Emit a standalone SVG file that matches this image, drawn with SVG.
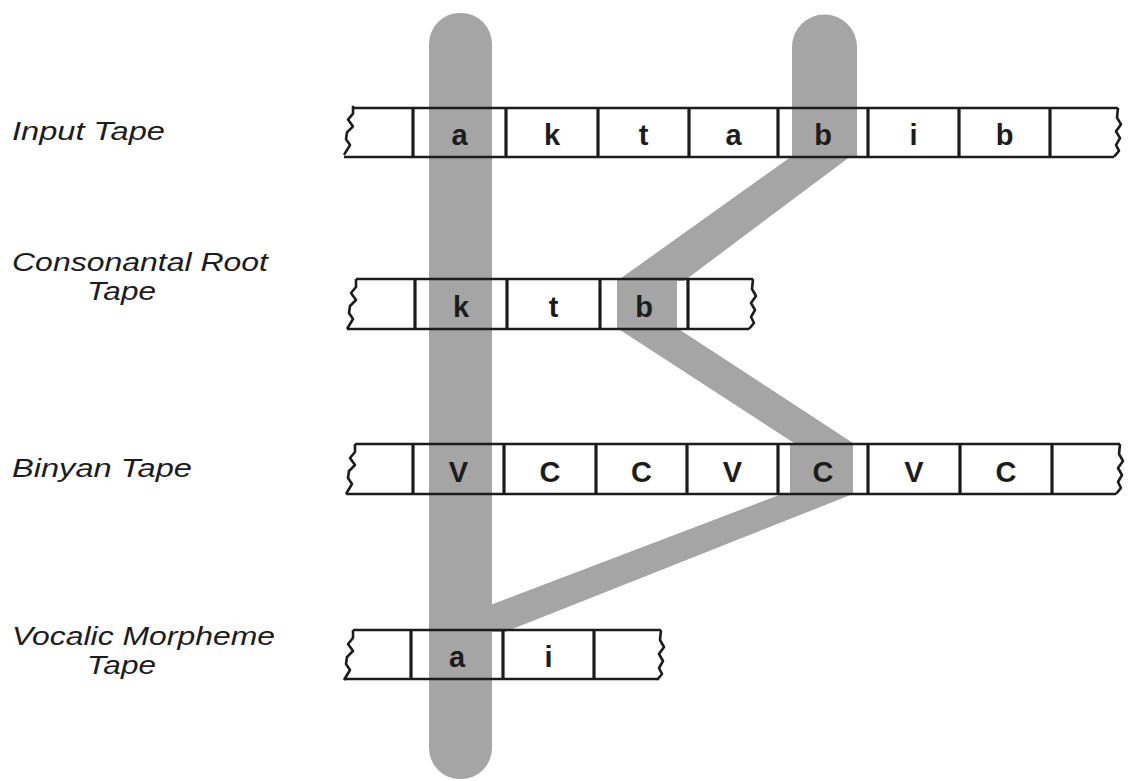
<svg xmlns="http://www.w3.org/2000/svg" xmlns:xlink="http://www.w3.org/1999/xlink" width="1128" height="781" viewBox="0 0 1128 781">
<style>
.sh{fill:#a5a5a5;stroke:none}
.tl{stroke:#1c1c1c;stroke-width:2.6;fill:none;stroke-linejoin:round}
.dv{stroke:#1c1c1c;stroke-width:3.2}
.sym{font-family:"Liberation Sans",Arial,sans-serif;font-weight:bold;font-size:29px;fill:#1c1c1c;text-anchor:middle}
.lbl{font-family:"Liberation Sans",Arial,sans-serif;font-style:italic;font-size:25px;fill:#1c1c1c}
</style>
<defs>
<path id="zl" d="M0,0 L0,8 L-5,14 L0,21 L-6,27 L-7,34 L-3,40 L-9,50" class="tl"/>
<path id="zr" d="M0,0 L-1,10 L3,17 L-2,24 L2,31 L-2,38 L1,44 L-4,50" class="tl"/>
</defs>
<rect width="1128" height="781" fill="#ffffff"/>

<g id="labels">
<text class="lbl" x="12" y="140" textLength="153" lengthAdjust="spacingAndGlyphs">Input Tape</text>
<text class="lbl" x="12" y="271" textLength="256" lengthAdjust="spacingAndGlyphs">Consonantal Root</text>
<text class="lbl" x="87" y="300" textLength="69" lengthAdjust="spacingAndGlyphs">Tape</text>
<text class="lbl" x="12" y="477" textLength="180" lengthAdjust="spacingAndGlyphs">Binyan Tape</text>
<text class="lbl" x="12" y="645" textLength="263" lengthAdjust="spacingAndGlyphs">Vocalic Morpheme</text>
<text class="lbl" x="87" y="674" textLength="69" lengthAdjust="spacingAndGlyphs">Tape</text>
</g>

<g id="connectors">
<rect class="sh" x="429" y="13" width="63" height="766" rx="31" ry="31"/>
<path class="sh" d="M792,47 A32.5,32.5 0 0 1 857,47 L857,158 L792,158 Z"/>
<polygon class="sh" points="792,156 851,156 684,281 617,281"/>
<rect class="sh" x="617" y="279" width="60" height="51"/>
<polygon class="sh" points="617,328 677,328 856,445 797,445"/>
<rect class="sh" x="790" y="444" width="63" height="51"/>
<polygon class="sh" points="782,494 853,494 505,632 480,632 480,609"/>
</g>

<g id="input-tape">
<line class="tl" x1="353" y1="108" x2="1118" y2="108"/>
<line class="tl" x1="344" y1="157" x2="1114" y2="157"/>
<use xlink:href="#zl" href="#zl" x="353" y="108" transform="scale(1,0.98)"/>
<use xlink:href="#zr" href="#zr" x="1118" y="110" transform="scale(1,0.98)"/>
<line class="dv" x1="413" y1="108" x2="413" y2="157"/>
<line class="dv" x1="506" y1="108" x2="506" y2="157"/>
<line class="dv" x1="598" y1="108" x2="598" y2="157"/>
<line class="dv" x1="689" y1="108" x2="689" y2="157"/>
<line class="dv" x1="778" y1="108" x2="778" y2="157"/>
<line class="dv" x1="868" y1="108" x2="868" y2="157"/>
<line class="dv" x1="959" y1="108" x2="959" y2="157"/>
<line class="dv" x1="1050" y1="108" x2="1050" y2="157"/>
<text class="sym" x="459.5" y="145">a</text>
<text class="sym" x="552" y="145">k</text>
<text class="sym" x="643.5" y="145">t</text>
<text class="sym" x="733.5" y="145">a</text>
<text class="sym" x="823" y="145">b</text>
<text class="sym" x="913.5" y="145">i</text>
<text class="sym" x="1004.5" y="145">b</text>
</g>

<g id="consonantal-root-tape">
<line class="tl" x1="356" y1="279" x2="753" y2="279"/>
<line class="tl" x1="347" y1="329" x2="749" y2="329"/>
<use xlink:href="#zl" href="#zl" x="356" y="279"/>
<use xlink:href="#zr" href="#zr" x="753" y="279"/>
<line class="dv" x1="415" y1="279" x2="415" y2="329"/>
<line class="dv" x1="507" y1="279" x2="507" y2="329"/>
<line class="dv" x1="600" y1="279" x2="600" y2="329"/>
<line class="dv" x1="688" y1="279" x2="688" y2="329"/>
<text class="sym" x="461" y="316.5">k</text>
<text class="sym" x="553.5" y="316.5">t</text>
<text class="sym" x="644" y="316.5">b</text>
</g>

<g id="binyan-tape">
<line class="tl" x1="355" y1="444" x2="1120" y2="444"/>
<line class="tl" x1="346" y1="494" x2="1116" y2="494"/>
<use xlink:href="#zl" href="#zl" x="355" y="444"/>
<use xlink:href="#zr" href="#zr" x="1120" y="444"/>
<line class="dv" x1="413" y1="444" x2="413" y2="494"/>
<line class="dv" x1="504" y1="444" x2="504" y2="494"/>
<line class="dv" x1="596" y1="444" x2="596" y2="494"/>
<line class="dv" x1="687" y1="444" x2="687" y2="494"/>
<line class="dv" x1="778" y1="444" x2="778" y2="494"/>
<line class="dv" x1="868" y1="444" x2="868" y2="494"/>
<line class="dv" x1="960" y1="444" x2="960" y2="494"/>
<line class="dv" x1="1052" y1="444" x2="1052" y2="494"/>
<text class="sym" x="458.5" y="481.5">V</text>
<text class="sym" x="550" y="481.5">C</text>
<text class="sym" x="641.5" y="481.5">C</text>
<text class="sym" x="732.5" y="481.5">V</text>
<text class="sym" x="823" y="481.5">C</text>
<text class="sym" x="914" y="481.5">V</text>
<text class="sym" x="1006" y="481.5">C</text>
</g>

<g id="vocalic-morpheme-tape">
<line class="tl" x1="353" y1="630" x2="661" y2="630"/>
<line class="tl" x1="344" y1="679" x2="657" y2="679"/>
<use xlink:href="#zl" href="#zl" x="353" y="630"/>
<use xlink:href="#zr" href="#zr" x="661" y="630"/>
<line class="dv" x1="411" y1="630" x2="411" y2="679"/>
<line class="dv" x1="503" y1="630" x2="503" y2="679"/>
<line class="dv" x1="594" y1="630" x2="594" y2="679"/>
<text class="sym" x="457" y="667">a</text>
<text class="sym" x="548.5" y="667">i</text>
</g>
</svg>
